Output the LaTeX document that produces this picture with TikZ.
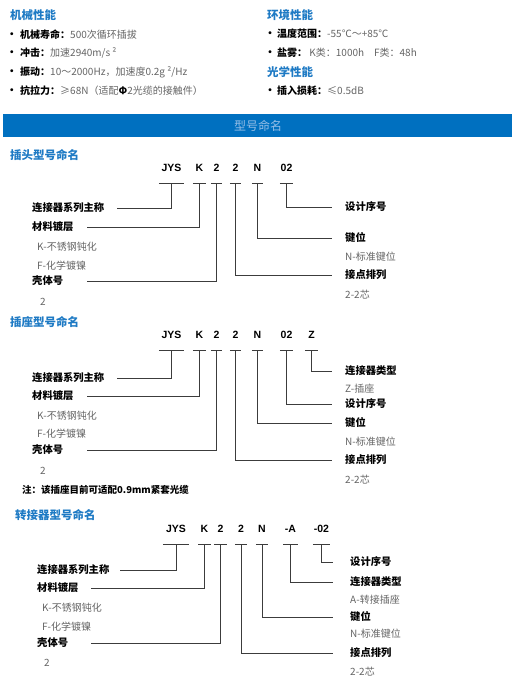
\documentclass[tikz,border=0pt]{standalone}
\usepackage{fontspec}
\setmainfont{Noto Sans CJK SC}
\newfontfamily\codefont{Liberation Sans}
\definecolor{headblue}{RGB}{30,122,196}
\definecolor{bandblue}{RGB}{0,112,192}
\definecolor{bandtext}{RGB}{150,190,230}
\definecolor{descgray}{RGB}{100,100,100}
\definecolor{linegray}{RGB}{60,60,60}
\tikzset{
  head/.style={font=\bfseries\fontsize{11.5}{13}\selectfont,text=headblue,anchor=west,inner sep=0pt},
  item/.style={font=\fontsize{10}{12}\selectfont,text=descgray,anchor=west,inner sep=0pt},
  dot/.style={font=\codefont\bfseries\fontsize{10}{10}\selectfont,inner sep=0pt},
  code/.style={font=\codefont\bfseries\fontsize{10.5}{12}\selectfont,minimum width=#1,minimum height=30pt,inner sep=0pt},
  lname/.style={font=\bfseries\fontsize{10.3}{12}\selectfont,anchor=west,text width=#1,align=left,inner sep=0pt},
  rname/.style={font=\bfseries\fontsize{10.3}{12}\selectfont,anchor=west,inner xsep=#1,inner ysep=0pt},
  rname/.default=13pt,
  desc/.style={font=\fontsize{10}{12}\selectfont,text=descgray,anchor=west,inner sep=0pt},
  conn/.style={draw=linegray,line width=0.8pt}
}
\begin{document}
\begin{tikzpicture}[x=1pt,y=-1pt]
\useasboundingbox (0,0) rectangle (517,683);

% performance
\node[head] (mech) at (10,15) {机械性能};
\node[dot] at (12,35) {•};
\node[item] (life) at (20,35) {\textbf{\color{black}机械寿命：}500次循环插拔};
\node[dot] at (12,53) {•};
\node[item] (shock) at (20,53) {\textbf{\color{black}冲击：}加速2940m/s ²};
\node[dot] at (12,72) {•};
\node[item] (vib) at (20,72) {\textbf{\color{black}振动：}10～2000Hz，加速度0.2g ²/Hz};
\node[dot] at (12,91) {•};
\node[item] (pull) at (20,91) {\textbf{\color{black}抗拉力：}≥68N（适配\textbf{\color{black}Φ}2光缆的接触件）};

\node[head] (env) at (267,15) {环境性能};
\node[dot] at (270,34) {•};
\node[item] (temp) at (277,34) {\textbf{\color{black}温度范围：}-55℃～+85℃};
\node[dot] at (270,53) {•};
\node[item] (salt) at (277,53) {\textbf{\color{black}盐雾：} K类：1000h\quad F类：48h};
\node[head] (opt) at (267,72) {光学性能};
\node[dot] at (270,91) {•};
\node[item] (loss) at (277,91) {\textbf{\color{black}插入损耗：}≤0.5dB};

% band
\fill[bandblue] (3,114) rectangle (512,137);
\node[font=\fontsize{12}{14}\selectfont,text=bandtext] (band) at (258,126) {型号命名};

% plug
\node[head] (h1) at (10,155) {插头型号命名};
\node[code=25pt] (a1) at (171.5,168) {JYS};
\node[code=13pt] (a2) at (199.5,168) {K};
\node[code=11pt] (a3) at (216.5,168) {2};
\node[code=11pt] (a4) at (235.5,168) {2};
\node[code=11pt] (a5) at (257.5,168) {N};
\node[code=13pt] (a6) at (286.5,168) {02};
\foreach \n in {a1,a2,a3,a4,a5,a6}
  \draw[conn] (\n.south west) -- (\n.south east);

\node[lname=85pt] (s1) at (32,208) {连接器系列主称};
\node[lname=55pt] (m1) at (32,227) {材料镀层};
\node[desc] (k1) at (37,247) {K-不锈钢钝化};
\node[desc] (f1) at (37,266) {F-化学镀镍};
\node[lname=55pt] (b1) at (32,281) {壳体号};
\node[desc] (n1) at (40,302) {2};
\node[rname] (d1) at (332,207) {设计序号};
\node[rname] (p1) at (332,238) {键位};
\node[desc] (pn1) at (345,257) {N-标准键位};
\node[rname] (c1) at (332,275) {接点排列};
\node[desc] (cn1) at (345,295) {2-2芯};

\draw[conn] (a1.south) |- (s1.east);
\draw[conn] (a2.south) |- (m1.east);
\draw[conn] (a3.south) |- (b1.east);
\draw[conn] (a4.south) |- (c1.west);
\draw[conn] (a5.south) |- (p1.west);
\draw[conn] (a6.south) |- (d1.west);

% socket
\node[head] (h2) at (10,322) {插座型号命名};
\node[code=25pt] (b1c) at (171.5,335) {JYS};
\node[code=13pt] (b2c) at (199.5,335) {K};
\node[code=11pt] (b3c) at (216.5,335) {2};
\node[code=11pt] (b4c) at (235.5,335) {2};
\node[code=11pt] (b5c) at (257.5,335) {N};
\node[code=13pt] (b6c) at (286.5,335) {02};
\node[code=13pt] (b7c) at (311.5,335) {Z};
\foreach \n in {b1c,b2c,b3c,b4c,b5c,b6c,b7c}
  \draw[conn] (\n.south west) -- (\n.south east);

\node[lname=85pt] (s2) at (32,378) {连接器系列主称};
\node[lname=55pt] (m2) at (32,396) {材料镀层};
\node[desc] (k2) at (37,416) {K-不锈钢钝化};
\node[desc] (f2) at (37,434) {F-化学镀镍};
\node[lname=55pt] (sh2) at (32,450) {壳体号};
\node[desc] (n2) at (40,471) {2};
\node[font=\bfseries\fontsize{9.5}{11}\selectfont,anchor=west,inner sep=0pt] (note) at (22,490) {注：该插座目前可适配0.9mm紧套光缆};
\node[rname] (t2) at (332,371) {连接器类型};
\node[desc] (tn2) at (345,389) {Z-插座};
\node[rname] (d2) at (332,404) {设计序号};
\node[rname] (p2) at (332,423) {键位};
\node[desc] (pn2) at (345,442) {N-标准键位};
\node[rname] (c2) at (332,460) {接点排列};
\node[desc] (cn2) at (345,480) {2-2芯};

\draw[conn] (b1c.south) |- (s2.east);
\draw[conn] (b2c.south) |- (m2.east);
\draw[conn] (b3c.south) |- (sh2.east);
\draw[conn] (b4c.south) |- (c2.west);
\draw[conn] (b5c.south) |- (p2.west);
\draw[conn] (b6c.south) |- (d2.west);
\draw[conn] (b7c.south) |- (t2.west);

% adapter
\node[head] (h3) at (15,515) {转接器型号命名};
\node[code=26pt] (c1c) at (176,529) {JYS};
\node[code=12pt] (c2c) at (204.5,529) {K};
\node[code=13pt] (c3c) at (220.5,529) {2};
\node[code=12pt] (c4c) at (241,529) {2};
\node[code=12pt] (c5c) at (262,529) {N};
\node[code=14pt] (c6c) at (290.5,529) {-A};
\node[code=17pt] (c7c) at (321.5,529) {-02};
\foreach \n in {c1c,c2c,c3c,c4c,c5c,c6c,c7c}
  \draw[conn] (\n.south west) -- (\n.south east);

\node[lname=83pt] (s3) at (37,570) {连接器系列主称};
\node[lname=54pt] (m3) at (37,588) {材料镀层};
\node[desc] (k3) at (42,608) {K-不锈钢钝化};
\node[desc] (f3) at (42,627) {F-化学镀镍};
\node[lname=54pt] (sh3) at (37,643) {壳体号};
\node[desc] (n3) at (44,663) {2};
\node[rname=17pt] (d3) at (333,562) {设计序号};
\node[rname=17pt] (t3) at (333,582) {连接器类型};
\node[desc] (tn3) at (350,600) {A-转接插座};
\node[rname=17pt] (p3) at (333,617) {键位};
\node[desc] (pn3) at (350,634) {N-标准键位};
\node[rname=17pt] (c3) at (333,653) {接点排列};
\node[desc] (cn3) at (350,672) {2-2芯};

\draw[conn] (c1c.south) |- (s3.east);
\draw[conn] (c2c.south) |- (m3.east);
\draw[conn] (c3c.south) |- (sh3.east);
\draw[conn] (c4c.south) |- (c3.west);
\draw[conn] (c5c.south) |- (p3.west);
\draw[conn] (c6c.south) |- (t3.west);
\draw[conn] (c7c.south) |- (d3.west);
\end{tikzpicture}
\end{document}
